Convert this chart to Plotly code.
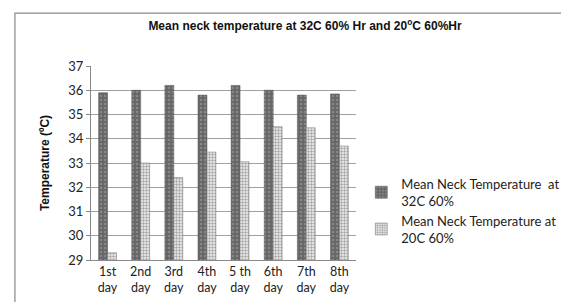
import plotly.graph_objects as go

days = ["1st<br>day", "2nd<br>day", "3rd<br>day", "4th<br>day", "5 th<br>day", "6th<br>day", "7th<br>day", "8th<br>day"]
temp_32c = [35.9, 36.0, 36.2, 35.8, 36.2, 36.0, 35.8, 35.85]
temp_20c = [29.3, 33.0, 32.4, 33.45, 33.05, 34.5, 34.45, 33.7]
y_ticks = [29, 30, 31, 32, 33, 34, 35, 36, 37]

fig = go.Figure()
fig.add_trace(go.Bar(
    x=days, y=temp_32c, name="Mean Neck Temperature  at<br>32C 60%",
    marker=dict(color="#6f6f6f", line=dict(color="#555555", width=0.5),
                pattern=dict(shape=".", fgcolor="#a8a8a8", bgcolor="#666666", size=4, solidity=0.3)),
))
fig.add_trace(go.Bar(
    x=days, y=temp_20c, name="Mean Neck Temperature at<br>20C 60%",
    marker=dict(color="#ffffff", line=dict(color="#777777", width=0.5),
                pattern=dict(shape=".", fgcolor="#5a5a5a", bgcolor="#f2f2f2", size=3, solidity=0.5)),
))

fig.update_layout(
    width=569, height=302,
    margin=dict(l=83, r=214, t=58, b=50),
    paper_bgcolor="white", plot_bgcolor="white",
    barmode="group", bargap=0.46, bargroupgap=0,
    font=dict(family="Lato, Open Sans, sans-serif", color="#222222"),
    title=dict(text="<b>Mean neck temperature at 32C 60% Hr and 20<sup>o</sup>C 60%Hr</b>",
               x=0.522, xanchor="center", y=0.94, yanchor="middle",
               font=dict(family="Liberation Sans, Arial", size=12, color="#111111")),
    legend=dict(x=1.02, y=0.47, xanchor="left", yanchor="top",
                font=dict(size=13, color="#222222"), tracegroupgap=6,
                itemwidth=30, bgcolor="rgba(0,0,0,0)"),
    showlegend=True,
)
fig.update_yaxes(
    range=[29, 37], tickvals=y_ticks, showgrid=True, gridcolor="#a0a0a0", gridwidth=1,
    showline=True, linecolor="#888888", ticks="outside", ticklen=4, tickcolor="#888888",
    tickfont=dict(size=13, color="#222222"),
    title=dict(text="<b>Temperature (ºC)</b>", font=dict(family="Liberation Sans, Arial", size=12, color="#111111"), standoff=16),
)
fig.update_xaxes(
    showline=True, linecolor="#888888", ticks="", tickfont=dict(size=12.5, color="#222222"),
)
fig.add_shape(type="rect", xref="paper", yref="paper",
              x0=-0.287, x1=1.81, y0=-0.25, y1=1.273,
              line=dict(color="#888888", width=1.2), fillcolor="rgba(0,0,0,0)", layer="below")

fig.write_html("out.html")
